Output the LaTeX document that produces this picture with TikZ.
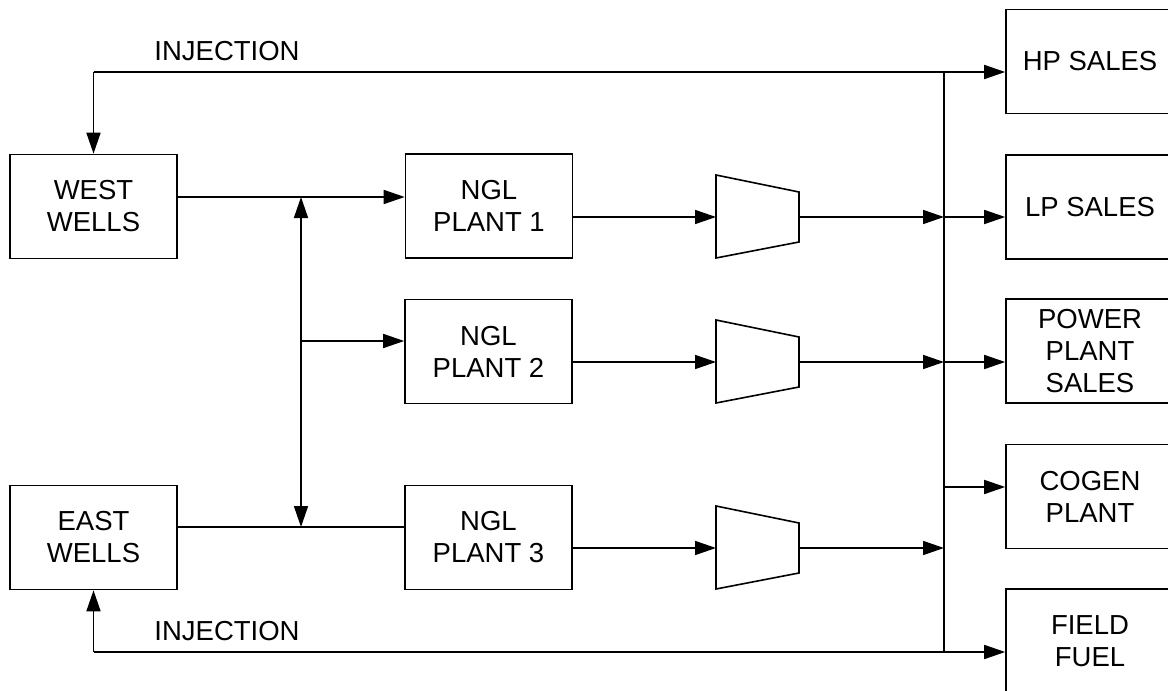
\documentclass[tikz,border=0pt]{standalone}
\usepackage{fontspec}
\setmainfont{Liberation Sans}
\usetikzlibrary{arrows.meta}
\begin{document}
\begin{tikzpicture}[x=1bp,y=-1bp,
  every node/.style={font=\fontsize{27.5bp}{32bp}\selectfont, align=center, inner sep=0pt},
  box/.style={draw, line width=1.6bp, minimum width=167bp, minimum height=104bp},
  rbox/.style={draw, line width=1.6bp, minimum width=168bp, minimum height=104bp},
  conn/.style={line width=1.6bp},
  arr/.style={conn, -{Triangle[length=21bp,width=14bp]}},
  darr/.style={conn, {Triangle[length=21bp,width=14bp]}-{Triangle[length=21bp,width=14bp]}},
  comp/.style={draw, line width=1.6bp, line join=miter}
]
\useasboundingbox (0,0) rectangle (1168,691);

% left boxes
\node[box] (ww) at (93.5,206.5) {WEST\\WELLS};
\node[box] (ew) at (93.5,537.5) {EAST\\WELLS};
% plants
\node[box] (n1) at (489,206) {NGL\\PLANT 1};
\node[box] (n2) at (488.5,351.5) {NGL\\PLANT 2};
\node[box] (n3) at (488.5,537.5) {NGL\\PLANT 3};
% right boxes (right edge falls outside the picture)
\node[rbox] (hp) at (1090,61.5) {HP SALES};
\node[rbox] (lp) at (1090,207) {LP SALES};
\node[rbox] (pp) at (1090,351) {POWER\\PLANT\\SALES};
\node[rbox] (cg) at (1090,496.5) {COGEN\\PLANT};
\node[rbox] (ff) at (1090,641) {FIELD\\FUEL};

% labels
\node (injtop) at (227,51.5) {INJECTION};
\node (injbot) at (227,631) {INJECTION};

% coordinates
\coordinate (j1) at (301,197);
\coordinate (j2) at (301,341);
\coordinate (j3) at (301,527);
\coordinate (inj1) at (93.5,72);
\coordinate (inj2) at (93.5,652);
\coordinate (bustop) at (944,72);
\coordinate (busbot) at (944,652);
\coordinate (b1) at (944,217);
\coordinate (b2) at (944,362);
\coordinate (b3) at (944,548);
\coordinate (b4) at (944,487);

% compressors
\foreach \i/\y in {1/217,2/362,3/548}{
  \draw[comp] (716,\y-42) -- (799,\y-25) -- (799,\y+25) -- (716,\y+41) -- cycle;
  \coordinate (t\i in) at (716,\y);
  \coordinate (t\i out) at (799,\y);
}

% wells to plants
\draw[arr] (ww.east |- j1) -- (n1.west |- j1);
\draw[conn] (ew.east |- j3) -- (n3.west |- j3);
\draw[darr] (j3) -- (j1);
\draw[arr] (j2) -- (n2.west |- j2);

% plants to compressors
\draw[arr] (n1.east |- t1in) -- (t1in);
\draw[arr] (n2.east |- t2in) -- (t2in);
\draw[arr] (n3.east |- t3in) -- (t3in);

% compressors to bus
\draw[arr] (t1out) -- (b1);
\draw[arr] (t2out) -- (b2);
\draw[arr] (t3out) -- (b3);

% bus
\draw[conn] (bustop) -- (busbot);

% bus to outlets
\draw[arr] (b1) -- (lp.west |- b1);
\draw[arr] (b2) -- (pp.west |- b2);
\draw[arr] (b4) -- (cg.west |- b4);

% injection loops
\draw[conn] (inj1) -- (bustop);
\draw[arr] (bustop) -- (hp.west |- bustop);
\draw[arr] (inj1) -- (ww.north);
\draw[conn] (inj2) -- (busbot);
\draw[arr] (busbot) -- (ff.west |- busbot);
\draw[arr] (inj2) -- (ew.south);
\end{tikzpicture}
\end{document}
